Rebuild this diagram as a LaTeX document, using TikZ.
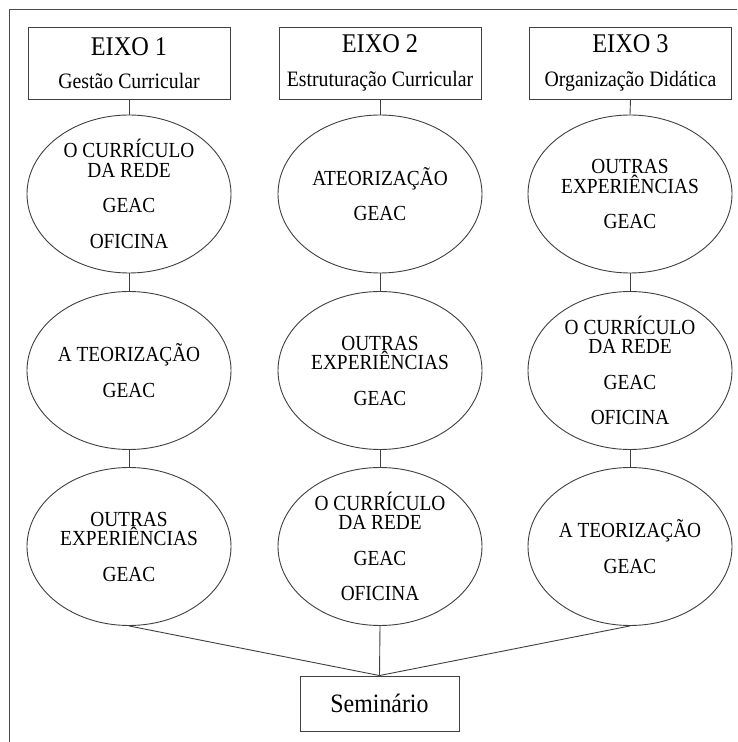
\documentclass[tikz,border=0pt]{standalone}
\usepackage{fontspec}
\setmainfont{Liberation Serif}[FakeStretch=0.9]
\usetikzlibrary{shapes.geometric}
\begin{document}
\begin{tikzpicture}[x=1pt,y=1pt,
  ln/.style={draw=black!75, line width=0.9pt},
  eixobox/.style={ln, rectangle, minimum width=202pt, minimum height=72pt, inner sep=0pt, align=center, text=black},
  oval/.style={ln, ellipse, minimum width=204pt, minimum height=158pt, inner sep=0pt, align=center, text=black,
    font=\fontsize{21.5}{19.5}\selectfont},
  sembox/.style={ln, rectangle, minimum width=159pt, minimum height=55pt, inner sep=0pt, text=black,
    font=\fontsize{26.5}{28}\selectfont}
]
\useasboundingbox (0,0) rectangle (737,742);
\fill[white] (0,0) rectangle (737,742);
% frame
\coordinate (fb) at (9,0);
\coordinate (ftl) at (9,732);
\coordinate (fr) at (737,732);
\draw[draw=black!70, line width=1pt] (fb) -- (ftl) -- (fr);

% header boxes
\newcommand{\eixo}[2]{{\fontsize{27}{28}\selectfont #1}\\[17pt]{\fontsize{22}{24}\selectfont #2}}
\node[eixobox] (b1) at (129,679) {\eixo{EIXO 1}{Gestão Curricular}};
\node[eixobox] (b2) at (380,679) {\eixo{EIXO 2}{Estruturação Curricular}};
\node[eixobox] (b3) at (630.5,679) {\eixo{EIXO 3}{Organização Didática}};

% ellipses: e<col><row>
\node[oval] (e11) at (129,548) {O CURRÍCULO\\DA REDE\\[16pt]GEAC\\[16pt]OFICINA};
\node[oval] (e12) at (129,371.5) {A TEORIZAÇÃO\\[16pt]GEAC};
\node[oval] (e13) at (129,195.5) {OUTRAS\\EXPERIÊNCIAS\\[16pt]GEAC};

\node[oval] (e21) at (380,548) {ATEORIZAÇÃO\\[16pt]GEAC};
\node[oval] (e22) at (380,371.5) {OUTRAS\\EXPERIÊNCIAS\\[16pt]GEAC};
\node[oval] (e23) at (380,195.5) {O CURRÍCULO\\DA REDE\\[16pt]GEAC\\[16pt]OFICINA};

\node[oval] (e31) at (630,548) {OUTRAS\\EXPERIÊNCIAS\\[16pt]GEAC};
\node[oval] (e32) at (630,371.5) {O CURRÍCULO\\DA REDE\\[16pt]GEAC\\[16pt]OFICINA};
\node[oval] (e33) at (630,195.5) {A TEORIZAÇÃO\\[16pt]GEAC};

\node[sembox] (sem) at (379.5,38.5) {Seminário};

% connectors
\draw[ln] (b1.south) -- (e11.north);
\draw[ln] (e11.south) -- (e12.north);
\draw[ln] (e12.south) -- (e13.north);
\draw[ln] (b2.south) -- (e21.north);
\draw[ln] (e21.south) -- (e22.north);
\draw[ln] (e22.south) -- (e23.north);
\draw[ln] (b3.south) -- (e31.north);
\draw[ln] (e31.south) -- (e32.north);
\draw[ln] (e32.south) -- (e33.north);
\draw[ln] (e13.south) -- (sem.north);
\draw[ln] (e23.south) -- (sem.north);
\draw[ln] (e33.south) -- (sem.north);
\end{tikzpicture}
\end{document}
